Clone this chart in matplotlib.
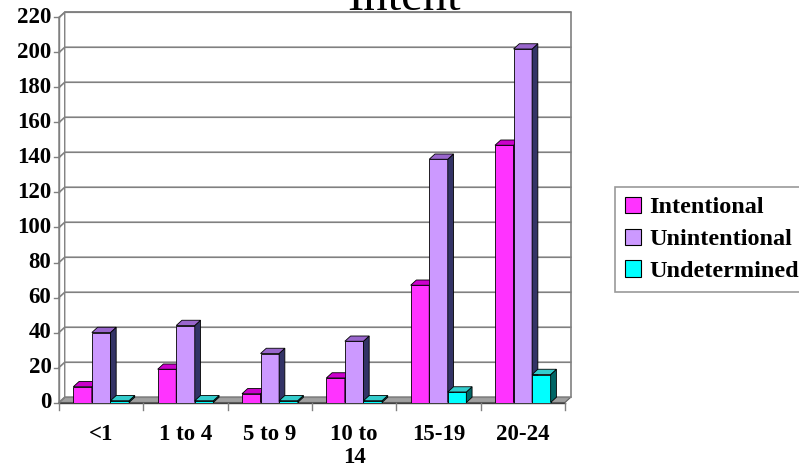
import matplotlib
matplotlib.use("Agg")
import matplotlib.pyplot as plt
from matplotlib.patches import Patch

plt.rcParams['font.family'] = ['Liberation Serif', 'DejaVu Serif']

CATEGORIES = ["<1", "1 to 4", "5 to 9", "10 to\n14", "15-19", "20-24"]
SERIES = ["Intentional", "Unintentional", "Undetermined"]
INTENTIONAL = [9, 19, 5, 14, 67, 147]
UNINTENTIONAL = [40, 44, 28, 35, 139, 202]
UNDETERMINED = [1, 1, 1, 1, 6, 16]
Y_TICKS = list(range(0, 221, 20))

# front, top, side colours for each series
COLORS = [
    ("#ff33ff", "#cc00cc", "#660066"),
    ("#cc99ff", "#9966cc", "#333366"),
    ("#00ffff", "#33cccc", "#006666"),
]

DX = 0.068   # depth in x data units
DY = 3.0     # depth in y data units
BAR_W = 0.22

fig = plt.figure(figsize=(7.99, 4.70), dpi=100)
ax = fig.add_axes([59 / 799, (470 - 402.5) / 470, 506 / 799, 385 / 470])
ax.set_xlim(-0.5, 5.5)
ax.set_ylim(0, 220)
ax.axis("off")

x0, x1 = -0.5, 5.5
grid_c = "#808080"

# floor
ax.fill([x0, x1, x1 + DX, x0 + DX], [0, 0, DY, DY], color="#a0a0a0",
        ec="#606060", lw=0.8, clip_on=False, zorder=1)
# left wall
ax.fill([x0, x0 + DX, x0 + DX, x0], [0, DY, 220 + DY, 220], color="white",
        ec=grid_c, lw=1, clip_on=False, zorder=1)
# back wall border
ax.plot([x0 + DX, x1 + DX, x1 + DX], [220 + DY, 220 + DY, DY], color=grid_c,
        lw=1.2, clip_on=False, zorder=1)

# gridlines on wall + tick marks
for v in Y_TICKS:
    ax.plot([x0, x0 + DX, x1 + DX], [v, v + DY, v + DY], color=grid_c,
            lw=1.2, clip_on=False, zorder=1)
    ax.plot([x0 - 0.06, x0], [v, v], color=grid_c, lw=1, clip_on=False, zorder=1)
    ax.text(x0 - 0.09, v, str(v), ha="right", va="center", fontsize=16.5,
            fontweight="bold")

# front axis
ax.plot([x0, x0], [0, 220], color=grid_c, lw=1, clip_on=False, zorder=2)
ax.plot([x0, x1], [0, 0], color="#404040", lw=1, clip_on=False, zorder=2)
for i in range(len(CATEGORIES) + 1):
    ax.plot([x0 + i, x0 + i], [0, -4], color=grid_c, lw=1, clip_on=False)

for i, lab in enumerate(CATEGORIES):
    ax.text(i, -12, lab, ha="center", va="top", fontsize=16.5, fontweight="bold",
            linespacing=1.15)


def bar3d(xl, h, cols):
    front, top, side = cols
    ax.bar(xl, h, width=BAR_W, align="edge", color=front, ec="black", lw=0.6,
           zorder=3)
    xr = xl + BAR_W
    ax.fill([xr, xr + DX, xr + DX, xr], [0, DY, h + DY, h], color=side,
            ec="black", lw=0.6, zorder=3, clip_on=False)
    ax.fill([xl, xr, xr + DX, xl + DX], [h, h, h + DY, h + DY], color=top,
            ec="black", lw=0.6, zorder=3, clip_on=False)


data = [INTENTIONAL, UNINTENTIONAL, UNDETERMINED]
for i in range(len(CATEGORIES)):
    for s in range(len(SERIES)):
        xl = i - 0.33 + s * BAR_W
        bar3d(xl, data[s][i], COLORS[s])

fig.text(404 / 799, 1 - 10 / 470, "Intent", ha="center", va="baseline",
         fontsize=35)

handles = [Patch(facecolor=c[0], edgecolor="black", lw=0.8) for c in COLORS]
leg = fig.legend(handles, SERIES, loc="upper left",
                 bbox_to_anchor=(615 / 799, 1 - 187 / 470), frameon=True,
                 fancybox=False, edgecolor="#808080", handlelength=0.65,
                 handleheight=0.65, handletextpad=0.35, labelspacing=0.42,
                 borderpad=0.4, borderaxespad=0,
                 prop={"size": 17.5, "weight": "bold"})
leg.get_frame().set_linewidth(1.2)

fig.savefig("out.png", dpi=100)
